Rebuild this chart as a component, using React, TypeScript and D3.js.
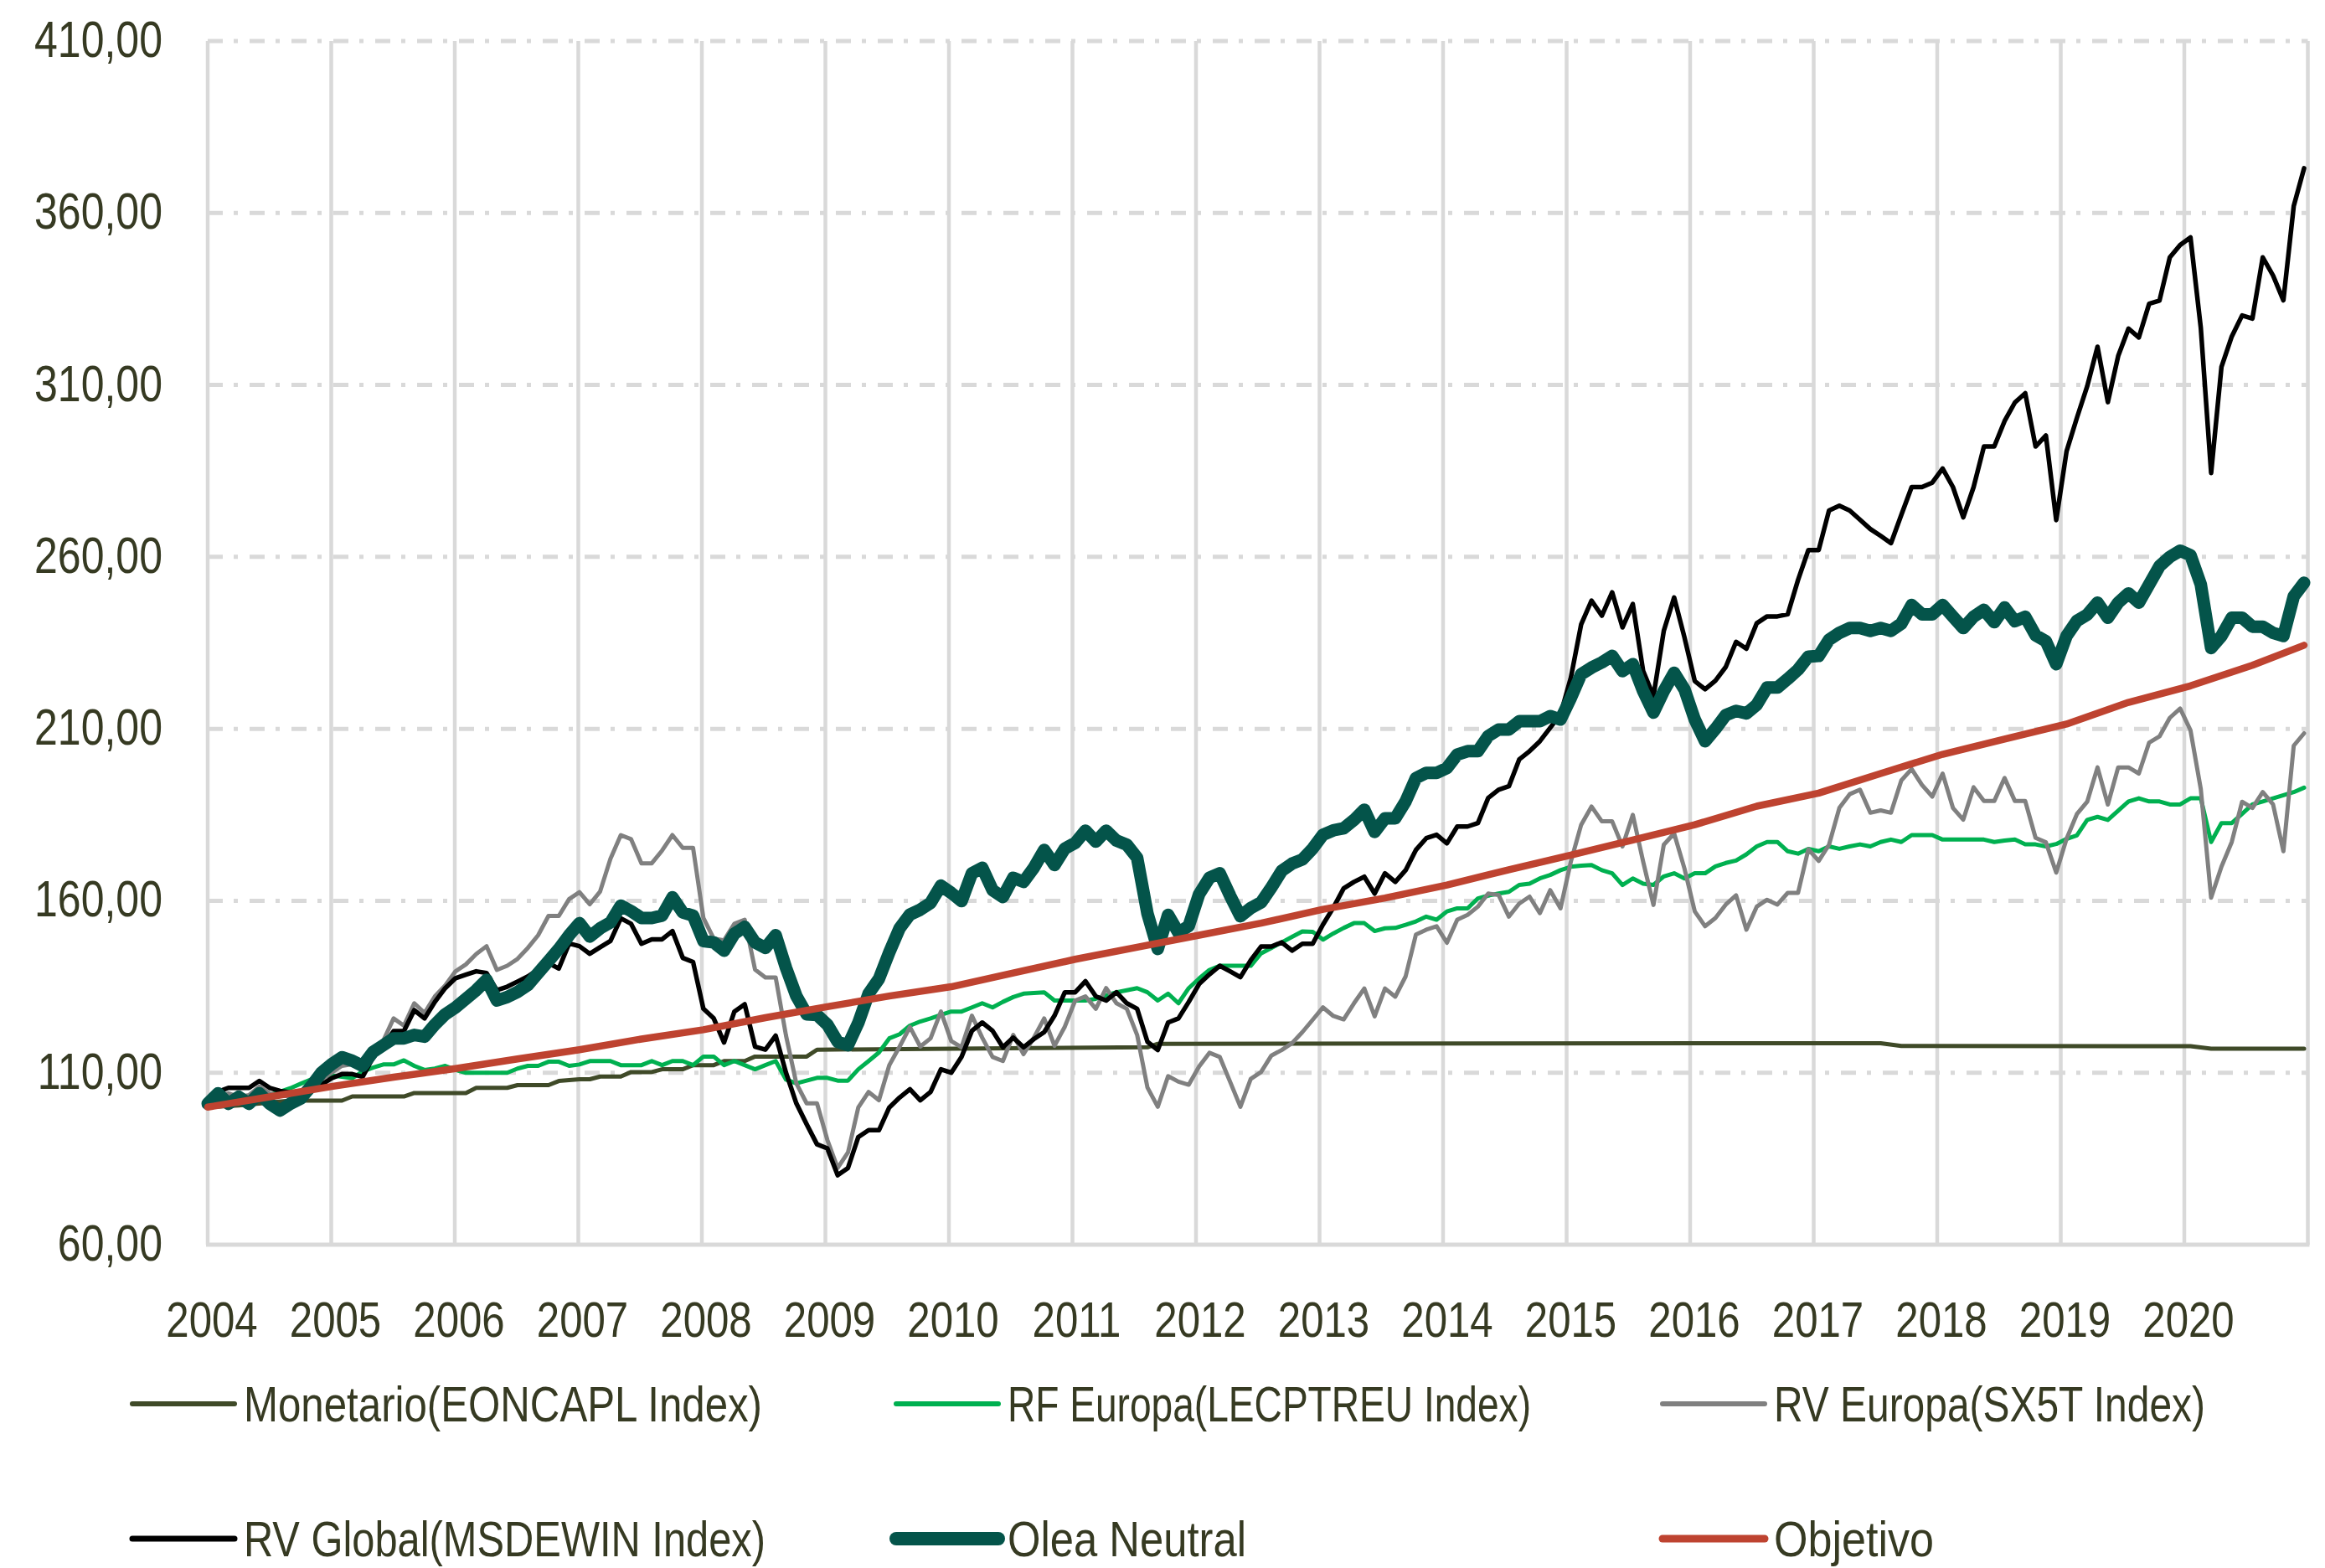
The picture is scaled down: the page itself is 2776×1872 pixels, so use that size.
import React from 'react';
import * as d3 from 'd3';

// ---------- DATA (monthly, index 0 = Jan 2004) ----------
const oleaNeutral: number[] = [
  101, 104, 101, 103, 101, 104, 101, 99, 101, 102.5, 106, 110,
  112.5, 114.5, 113.5, 112, 116, 118, 120, 120, 121, 120.5, 124, 127,
  129, 131.5, 134, 137, 131, 132, 133.5, 135.5, 139, 142.5, 146, 150,
  153.5, 149.6, 152, 153.7, 158.6, 157, 155, 155, 155.7, 161, 156.6, 155.7,
  148.3, 147.9, 145.5, 150.4, 152.4, 147.9, 146.3, 150, 140.5, 132.3, 127, 126.8,
  124, 119, 118, 124.5, 133, 137.3, 145, 152, 156, 157.4, 159.4, 164.4,
  162.3, 159.9, 168, 169.6, 163.1, 161.1, 166.7, 165.5, 169.6, 174.8, 170.4, 175.2,
  176.8, 180.4, 177.2, 180.4, 177.5, 176.3, 172.5, 156.3, 146, 155.9, 150.7, 152.7,
  161.9, 166.7, 168, 161.5, 155.5, 157.9, 159.5, 163.9, 168.7, 170.8, 172, 175.2,
  179.2, 180.5, 181.1, 183.5, 186.5, 180, 184, 184, 188.9, 195.7, 197.2, 197.2,
  198.6, 202.5, 203.5, 203.5, 207.9, 209.8, 209.8, 212.2, 212.2, 212.2, 213.7, 212.7,
  219, 225.9, 227.8, 229.3, 231.2, 226.8, 228.8, 221, 214.7, 221, 226.3, 221.5,
  212.7, 206.4, 210, 214, 215.2, 214.5, 217, 222, 222, 224.5, 227.2, 231,
  231.2, 235.9, 237.9, 239.3, 239.3, 238.5, 239.3, 238.5, 240.6, 246, 243.3, 243.3,
  246, 242.6, 239.3, 242.6, 244.6, 241, 245.3, 241.3, 242.6, 237.2, 235.5, 228.8,
  237, 241.4, 243.2, 246.7, 242.3, 246.7, 249.4, 246.7, 252, 257.3, 260, 261.8,
  260.5, 252, 233.5, 237, 242.3, 242.3, 239.7, 239.7, 237.9, 237, 248.5, 252.5,
];

const rvGlobal: number[] = [
  102, 104.5, 105.6, 105.6, 105.6, 107.6, 105.6, 104.7, 104.3, 104, 104.5, 106.5,
  108.4, 109.6, 109.6, 108.8, 114.4, 117.7, 122.1, 122.1, 128.2, 125.8, 130.6, 134.6,
  137.5, 138.5, 139.5, 139, 134, 135, 136.5, 138, 140, 141.9, 140.3, 147.6,
  146.8, 144.6, 146.5, 148.3, 154.9, 153.3, 147.5, 148.8, 148.8, 151.2, 143.4, 142.2,
  128.6, 125.8, 118.8, 127.8, 129.9, 117.6, 116.7, 120.8, 110, 101.1, 95, 89.2,
  88, 80.2, 82.3, 91.3, 93.3, 93.3, 99.9, 102.8, 105.2, 102, 104.4, 111,
  110, 114.6, 122.2, 124.6, 122.2, 117.4, 120.2, 117.4, 119.8, 121.8, 126.6, 133.4,
  133.4, 136.6, 132.2, 131, 133.4, 130.2, 128.6, 119, 116.6, 124.6, 125.8, 130.6,
  135.8, 138.6, 141.1, 139.5, 137.8, 142.7, 146.7, 146.7, 147.9, 145.5, 147.5, 147.5,
  153.1, 158, 163.6, 165.5, 167, 162.1, 168, 165.5, 168.9, 174.8, 178.2, 179.2,
  176.7, 181.6, 181.6, 182.6, 189.9, 192.3, 193.3, 201.1, 203.5, 206.4, 210.3, 214.2,
  224.9, 240.4, 247.3, 242.9, 249.7, 239.5, 246.3, 226.8, 219.5, 238.5, 248.2, 236.6,
  223.9, 221.5, 224, 228, 235.3, 233.3, 240.7, 242.7, 242.7, 243.3, 253.3, 262,
  262, 273.5, 274.9, 273.5, 270.8, 268.1, 266.1, 264, 272.2, 280.3, 280.3, 281.6,
  285.7, 280.3, 271.5, 280.3, 292.1, 292.1, 299.5, 304.9, 307.6, 292.1, 295.3, 270.7,
  290.7, 300.4, 309.6, 321.1, 305, 318.4, 326.4, 323.8, 333.6, 334.5, 347.1, 350.7,
  352.9, 326.6, 284.4, 315.2, 324.1, 330.2, 329.3, 347.1, 341.8, 334.6, 362, 373,
];

const rvEuropa: number[] = [
  101, 103, 104, 103, 103.5, 106, 104, 103.5, 103, 103, 105, 108,
  110, 112, 112.5, 113.5, 117, 119.3, 125.8, 123.7, 130.2, 127.4, 132.2, 135.4,
  139.5, 141.5, 144.5, 146.8, 139.9, 141.1, 143.1, 146.3, 150, 155.6, 155.6, 160.5,
  162.5, 159, 162.7, 172.2, 179.1, 177.9, 170.9, 170.9, 174.6, 179.1, 175.4, 175.4,
  155, 149, 148.5, 153.3, 154.5, 140, 137.7, 137.7, 120.8, 106.9, 101.1, 101.1,
  90.5, 82.3, 86.8, 99.9, 104.4, 102, 112.2, 117.6, 123.3, 117.6, 120, 127.8,
  119.2, 117.4, 126.6, 120.2, 114.6, 113.4, 121, 115.4, 120.2, 125.8, 117.8, 123.4,
  131, 132.2, 128.6, 134.6, 130.2, 128.6, 121, 105.7, 100.1, 109, 107.4, 106.5,
  111.8, 115.8, 114.6, 107.4, 100.1, 108.2, 110.2, 115, 116.6, 118.6, 121.8, 125.4,
  129, 126.5, 125.5, 130.2, 134.5, 126.4, 134.5, 132.1, 138, 150.2, 151.6, 152.6,
  147.8, 154.5, 155.9, 158.3, 162.1, 161.7, 155.4, 159.2, 161.2, 156.4, 163.1, 157.8,
  171.4, 182.1, 187.4, 183.1, 183.1, 175.8, 185, 171.4, 158.8, 176.3, 179.6, 169.4,
  156.9, 152.6, 155, 158.9, 161.6, 151.6, 158.3, 160.3, 158.9, 162.3, 162.3, 175,
  171.6, 176.3, 187, 191, 192.3, 185.6, 186.3, 185.6, 195, 198.3, 193.7, 190.3,
  197, 187, 183.6, 193, 189, 189, 195.7, 189, 189, 178.3, 177, 168.2,
  178, 185.2, 188.8, 198.8, 188, 198.8, 198.8, 197, 206, 207.8, 213.2, 215.9,
  209.6, 192.5, 160.9, 169.9, 177.1, 188.8, 187, 191.6, 188, 174.4, 205.1, 208.7,
];

const rfEuropa: number[] = [
  100, 101, 101.5, 101, 102, 103, 103.5, 104.5, 105.5, 106.8, 108, 109,
  109.2, 108.8, 108.4, 110.4, 111.5, 112.4, 112.4, 113.6, 112, 110.8, 111.2, 112,
  110.8, 110, 110, 110, 110, 110, 111.2, 112, 112, 113.2, 113.2, 112,
  112.4, 113.4, 113.4, 113.4, 112.2, 112.2, 112.2, 113.4, 112.2, 113.4, 113.4, 112.2,
  114.7, 114.7, 112.2, 113.4, 112.2, 111, 112.2, 113.4, 108, 106.9, 107.7, 108.5,
  108.5, 107.7, 107.7, 111, 113.4, 115.9, 120, 121.2, 123.7, 124.9, 125.8, 126.8,
  127.8, 127.8, 129, 130.2, 129, 130.6, 132, 133, 133.2, 133.4, 131, 131,
  131, 131, 131.5, 132.5, 133.4, 134, 134.6, 133.4, 131, 133, 130.2, 134.6,
  137.4, 139.9, 141.1, 141.1, 141.1, 141.1, 144.7, 146.3, 147.9, 149.5, 151.1, 151,
  148.7, 150.5, 152.1, 153.5, 153.5, 151.2, 152, 152.1, 153, 154, 155.4, 154.5,
  156.9, 157.8, 157.8, 160.7, 161.5, 162.1, 162.6, 164.6, 165, 166.5, 167.5, 168.9,
  169.9, 170.2, 170.4, 168.9, 168, 164.6, 166.5, 165, 164.6, 167.1, 168, 166.5,
  168, 168, 170, 171, 171.7, 173.5, 175.8, 177.1, 177.1, 174.4, 173.7, 175.1,
  174.4, 175.8, 175.1, 175.8, 176.4, 175.8, 177.1, 177.8, 177.1, 179.1, 179.1, 179.1,
  177.8, 177.8, 177.8, 177.8, 177.8, 177.1, 177.5, 177.8, 176.4, 176.4, 175.8, 176.5,
  178, 179, 183.5, 184.4, 183.5, 186.2, 188.9, 189.8, 188.9, 188.9, 188, 188,
  189.8, 189.8, 177.1, 182.6, 182.6, 185.3, 188, 188.9, 189.8, 190.7, 191.6, 192.9,
];

// sparse series: month index / value
const monetarioMonths = [0, 3, 8, 13, 14, 19, 20, 25, 26, 29, 30, 33, 34, 36, 37, 38, 40, 41, 43, 44, 46, 47, 49, 50, 52, 53, 58, 59, 80, 91, 92, 162, 164, 192, 194, 203];
const monetarioValues = [100, 100.5, 101.9, 101.9, 103.1, 103.1, 104.1, 104.1, 105.6, 105.6, 106.4, 106.4, 107.6, 108.1, 108.1, 108.9, 108.9, 110.2, 110.2, 111, 111, 112.2, 112.2, 113.4, 113.4, 114.7, 114.7, 116.7, 117.2, 117.4, 118.4, 118.6, 117.8, 117.7, 117, 117];

const objetivoMonths = [0, 6, 12, 18, 24, 30, 36, 42, 48, 54, 60, 66, 72, 78, 84, 90, 96, 102, 108, 114, 120, 126, 132, 138, 144, 150, 156, 162, 168, 174, 180, 186, 192, 198, 203];
const objetivoValues = [100, 103, 106, 108.7, 111.2, 114, 116.7, 119.8, 122.5, 126, 129.2, 132.3, 135, 139, 143, 146.5, 150, 153.5, 157.5, 160.8, 164.6, 169, 173.3, 177.7, 182.1, 187.5, 191.3, 197, 202.6, 207, 211.4, 217.7, 222.5, 228.5, 234.3];

const yTickValues = [60, 110, 160, 210, 260, 310, 360, 410];
const yearGrid = [2004, 2005, 2006, 2007, 2008, 2009, 2010, 2011, 2012, 2013, 2014, 2015, 2016, 2017, 2018, 2019, 2020, 2021];
const yearLabels = [2004, 2005, 2006, 2007, 2008, 2009, 2010, 2011, 2012, 2013, 2014, 2015, 2016, 2017, 2018, 2019, 2020];

const seriesNames = [
  'Monetario(EONCAPL Index)',
  'RF Europa(LECPTREU Index)',
  'RV Europa(SX5T Index)',
  'RV Global(MSDEWIN Index)',
  'Olea Neutral',
  'Objetivo',
];

// ---------- STYLE ----------
const W = 2776;
const H = 1872;
const FONT = "'Liberation Sans', Arial, sans-serif";
const NARROW = 0.82;
const TEXT = '#363a22';
const GRID = '#d9d9d9';
const COLORS = {
  monetario: '#3f4a28',
  rf: '#00b050',
  rve: '#808080',
  rvg: '#000000',
  olea: '#04544a',
  obj: '#be4330',
};

function NText(props: { x: number; y: number; size: number; anchor?: string; children: React.ReactNode }) {
  return (
    <text
      transform={`translate(${props.x},${props.y}) scale(${NARROW},1)`}
      textAnchor={props.anchor || 'start'}
      fontFamily={FONT}
      fontSize={props.size}
      fill={TEXT}
    >
      {props.children}
    </text>
  );
}

export default function App() {
  const x = d3.scaleLinear().domain([2004, 2021]).range([248, 2755.5]);
  const xi = d3.scaleLinear().domain([0, 203]).range([248, 2751]);
  const y = d3.scaleLinear().domain([60, 410]).range([1486, 49]);

  const dense = d3.line<number>().x((_, i) => xi(i)).y((d) => y(d));
  const sparse = d3.line<[number, number]>().x((d) => xi(d[0])).y((d) => y(d[1]));

  const monPts = monetarioMonths.map((m, i) => [m, monetarioValues[i]] as [number, number]);
  const objPts = objetivoMonths.map((m, i) => [m, objetivoValues[i]] as [number, number]);

  const fmt = (v: number) => v.toFixed(2).replace('.', ',');

  const series = [
    { d: sparse(monPts), color: COLORS.monetario, w: 5 },
    { d: dense(rfEuropa), color: COLORS.rf, w: 5 },
    { d: dense(rvEuropa), color: COLORS.rve, w: 5 },
    { d: dense(rvGlobal), color: COLORS.rvg, w: 5.5 },
    { d: dense(oleaNeutral), color: COLORS.olea, w: 15 },
    { d: sparse(objPts), color: COLORS.obj, w: 8.5 },
  ];

  const legend = [
    { name: seriesNames[0], color: COLORS.monetario, w: 6, x: 158, y: 1676, len: 619 },
    { name: seriesNames[1], color: COLORS.rf, w: 6, x: 1070, y: 1676, len: 625 },
    { name: seriesNames[2], color: COLORS.rve, w: 6, x: 1985, y: 1676, len: 515 },
    { name: seriesNames[3], color: COLORS.rvg, w: 7, x: 158, y: 1837, len: 623 },
    { name: seriesNames[4], color: COLORS.olea, w: 16, x: 1070, y: 1837, len: 285 },
    { name: seriesNames[5], color: COLORS.obj, w: 9, x: 1985, y: 1837, len: 191 },
  ];

  return (
    <svg
      width={W}
      height={H}
      viewBox={`0 0 ${W} ${H}`}
      style={{ position: 'absolute', left: 0, top: 0, display: 'block', background: '#ffffff' }}
    >
      <rect x={0} y={0} width={W} height={H} fill="#ffffff" />
      {/* vertical grid */}
      {yearGrid.map((yr) => (
        <line key={'v' + yr} x1={x(yr)} x2={x(yr)} y1={y(410)} y2={y(60)} stroke={GRID} strokeWidth={4.5} />
      ))}
      {/* horizontal grid (dash-dot) */}
      {yTickValues.filter((v) => v !== 60).map((v) => (
        <line
          key={'h' + v}
          x1={x(2004)}
          x2={x(2021)}
          y1={y(v)}
          y2={y(v)}
          stroke={GRID}
          strokeWidth={5}
          strokeDasharray="18,13,5,14"
        />
      ))}
      {/* bottom axis */}
      <line x1={x(2004) - 2} x2={x(2021) + 2} y1={y(60)} y2={y(60)} stroke={GRID} strokeWidth={5} />

      {/* y labels */}
      {yTickValues.map((v) => (
        <NText key={'yl' + v} x={194} y={y(v) + 19} size={61} anchor="end">
          {fmt(v)}
        </NText>
      ))}
      {/* x labels */}
      {yearLabels.map((yr) => (
        <NText key={'xl' + yr} x={x(yr) + 5} y={1596} size={60} anchor="middle">
          {yr}
        </NText>
      ))}

      {/* series */}
      {series.map((s, i) => (
        <path
          key={'s' + i}
          d={s.d || ''}
          fill="none"
          stroke={s.color}
          strokeWidth={s.w}
          strokeLinejoin="round"
          strokeLinecap="round"
        />
      ))}

      {/* legend */}
      {legend.map((l) => (
        <g key={l.name}>
          <line x1={l.x} x2={l.x + 122} y1={l.y} y2={l.y} stroke={l.color} strokeWidth={l.w} strokeLinecap="round" />
          <text
            x={l.x + 133}
            y={l.y + 21}
            fontFamily={FONT}
            fontSize={60}
            fill={TEXT}
            textLength={l.len}
            lengthAdjust="spacingAndGlyphs"
          >
            {l.name}
          </text>
        </g>
      ))}
    </svg>
  );
}
